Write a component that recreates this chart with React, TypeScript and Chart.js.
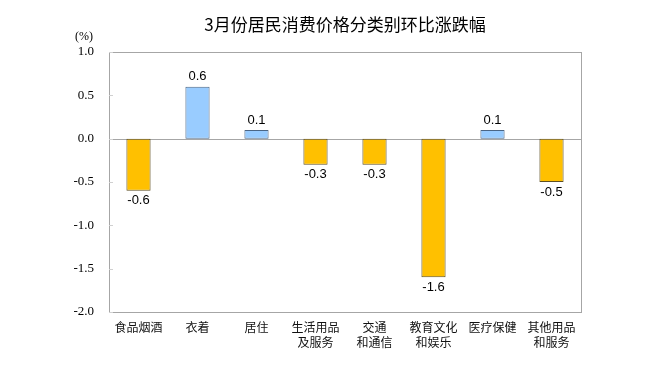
import React, { useEffect, useRef } from "react";
import { Chart, registerables } from "chart.js";

Chart.register(...registerables);

const titleText = "3月份居民消费价格分类别环比涨跌幅";
const unitLabel = "(%)";
const categories: string[][] = [
  ["食品烟酒"],
  ["衣着"],
  ["居住"],
  ["生活用品", "及服务"],
  ["交通", "和通信"],
  ["教育文化", "和娱乐"],
  ["医疗保健"],
  ["其他用品", "和服务"],
];
const values: number[] = [-0.6, 0.6, 0.1, -0.3, -0.3, -1.6, 0.1, -0.5];
const yMin = -2.0;
const yMax = 1.0;
const yStep = 0.5;

const POS_COLOR = "#99CCFF";
const NEG_COLOR = "#FFC000";
const POS_BORDER = "#4a6585";
const NEG_BORDER = "#5e4f22";

export default function App() {
  const ref = useRef<HTMLCanvasElement | null>(null);

  useEffect(() => {
    document.body.style.margin = "0";
    const canvas = ref.current;
    if (!canvas) return;

    const framePlugin = {
      id: "frame",
      beforeDatasetsDraw(chart: any) {
        const { ctx, chartArea } = chart;
        const y = chart.scales.y;
        ctx.save();
        ctx.strokeStyle = "#a6a6a6";
        ctx.lineWidth = 1;
        ctx.strokeRect(
          Math.round(chartArea.left) + 0.5,
          Math.round(chartArea.top) + 0.5,
          Math.round(chartArea.right - chartArea.left),
          Math.round(chartArea.bottom - chartArea.top)
        );
        const y0 = Math.round(y.getPixelForValue(0)) + 0.5;
        ctx.beginPath();
        ctx.moveTo(chartArea.left, y0);
        ctx.lineTo(chartArea.right, y0);
        ctx.stroke();
        ctx.strokeStyle = "#d0d0d0";
        y.ticks.forEach((t: any) => {
          const py = Math.round(y.getPixelForValue(t.value)) + 0.5;
          ctx.beginPath();
          ctx.moveTo(chartArea.left, py);
          ctx.lineTo(chartArea.left + 4, py);
          ctx.stroke();
        });
        ctx.restore();
      },
      afterDraw(chart: any) {
        const { ctx, chartArea } = chart;
        ctx.save();
        ctx.fillStyle = "#000";
        ctx.font = '17px "Noto Sans CJK SC", "Noto Sans", sans-serif';
        ctx.textAlign = "center";
        ctx.textBaseline = "middle";
        ctx.fillText(titleText, (chartArea.left + chartArea.right) / 2, 25);
        ctx.font = '12px "Liberation Serif", serif';
        ctx.textAlign = "left";
        ctx.fillText(unitLabel, 75, 37);
        ctx.restore();
      },
      afterDatasetsDraw(chart: any) {
        const { ctx } = chart;
        const meta = chart.getDatasetMeta(0);
        ctx.save();
        ctx.fillStyle = "#000";
        ctx.font = '13px "Liberation Sans", Arial, sans-serif';
        ctx.textAlign = "center";
        ctx.textBaseline = "middle";
        meta.data.forEach((bar: any, i: number) => {
          const v = values[i];
          const yy = v >= 0 ? bar.y - 10 : bar.y + 10;
          ctx.fillText(v.toFixed(1), bar.x, yy);
        });
        ctx.restore();
      },
    };

    const chart = new Chart(canvas, {
      type: "bar",
      data: {
        labels: categories,
        datasets: [
          {
            data: values,
            backgroundColor: values.map((v) => (v >= 0 ? POS_COLOR : NEG_COLOR)),
            borderColor: values.map((v) => (v >= 0 ? POS_BORDER : NEG_BORDER)),
            borderWidth: 1,
            borderSkipped: false,
            categoryPercentage: 1,
            barPercentage: 0.41,
          },
        ],
      },
      options: {
        responsive: false,
        animation: false,
        layout: { padding: { left: 0, right: 69, top: 52, bottom: 0 } },
        plugins: {
          legend: { display: false },
          title: { display: false },
          tooltip: { enabled: false },
        },
        scales: {
          x: {
            grid: { display: false, drawTicks: false },
            border: { display: false },
            ticks: {
              color: "#111",
              padding: 8,
              maxRotation: 0,
              autoSkip: false,
              font: { family: '"Noto Sans CJK SC", sans-serif', size: 12, lineHeight: 1.25 },
            },
            afterFit(scale: any) {
              scale.height = 60;
            },
          },
          y: {
            min: yMin,
            max: yMax,
            grid: { display: false, drawTicks: false },
            border: { display: false },
            ticks: {
              stepSize: yStep,
              color: "#000",
              padding: 15,
              font: { family: '"Liberation Serif", serif', size: 13 },
              callback: (v: any) => Number(v).toFixed(1),
            },
            afterFit(scale: any) {
              scale.width = 109;
            },
          },
        },
      },
      plugins: [framePlugin],
    });

    return () => chart.destroy();
  }, []);

  return (
    <div style={{ width: 650, height: 372, background: "#fff" }}>
      <canvas ref={ref} width={650} height={372} />
    </div>
  );
}
